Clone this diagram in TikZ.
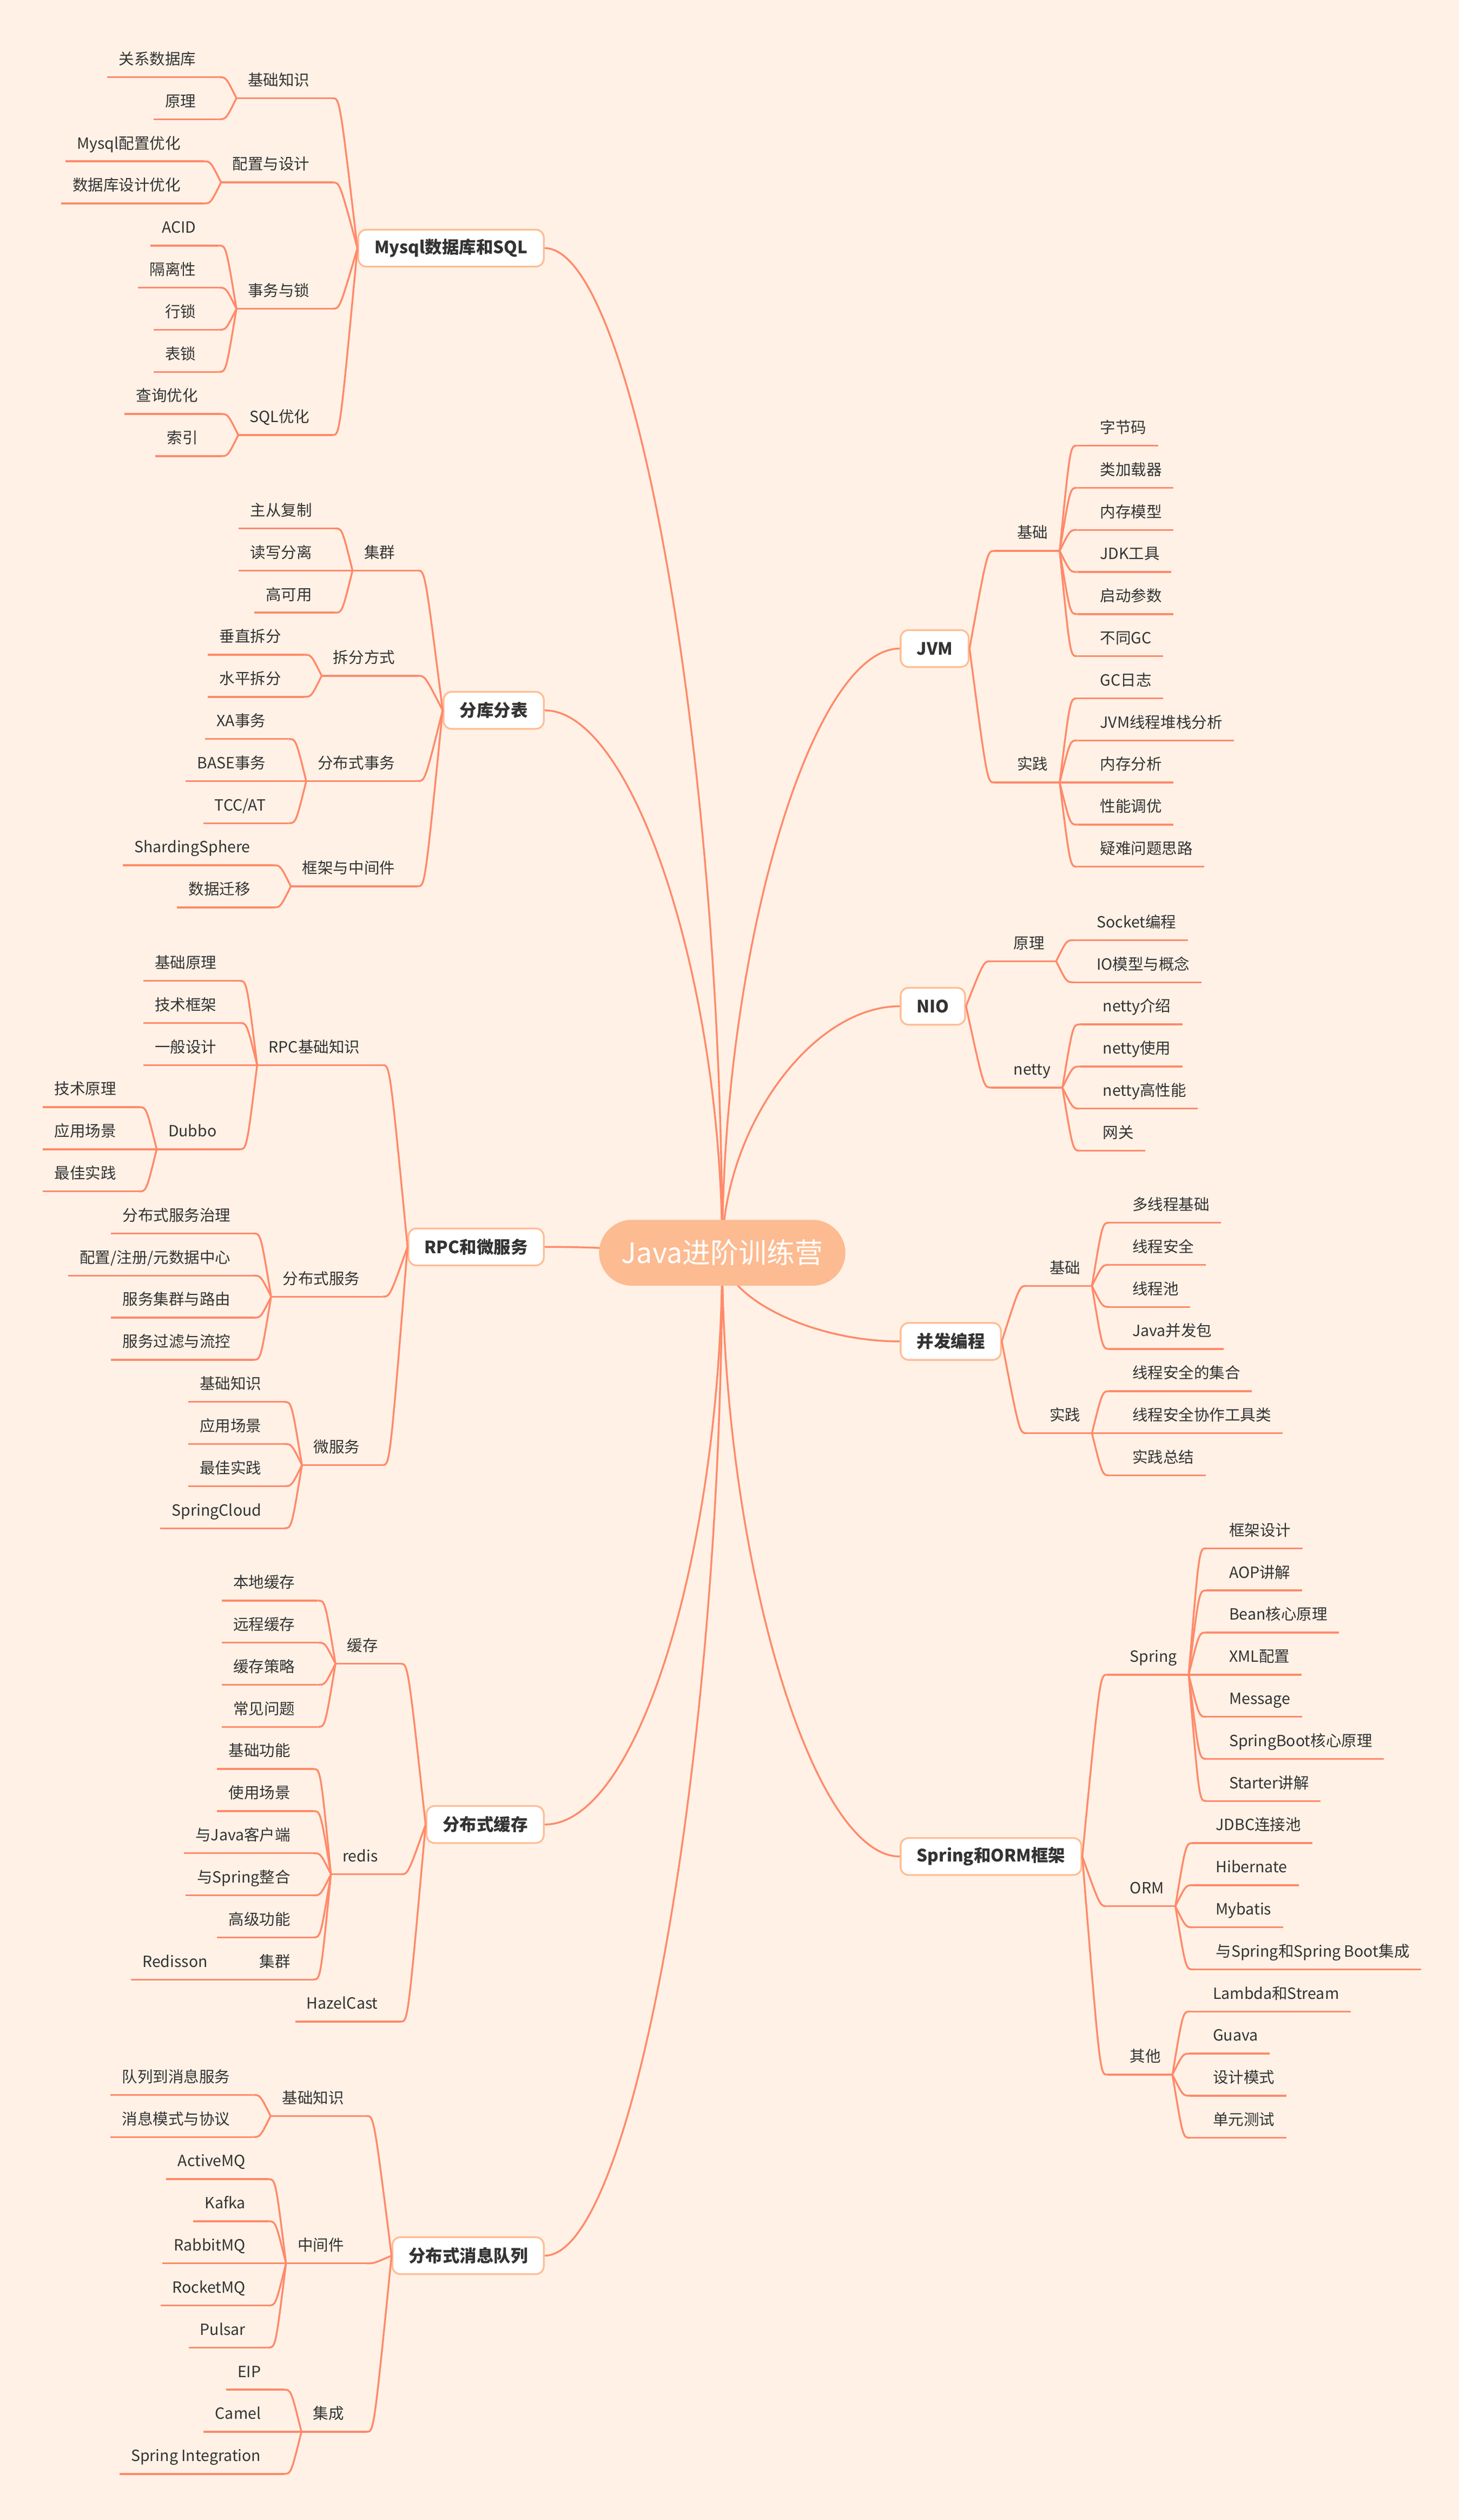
\documentclass[tikz,border=0pt]{standalone}
\usepackage{fontspec}
\setmainfont{Noto Sans CJK SC}
\usetikzlibrary{backgrounds}
\definecolor{paper}{RGB}{255,241,230}
\definecolor{linec}{RGB}{255,138,106}
\definecolor{framec}{RGB}{255,189,148}
\definecolor{rootc}{RGB}{253,187,145}
\definecolor{inkc}{RGB}{51,51,51}

\begin{document}
\begin{tikzpicture}
		[x=1pt, y=-1pt,
		 branchline/.style={draw=linec, line width=1.15pt},
		 rootbox/.style={fill=rootc, rounded corners=20.5pt, minimum height=41pt, inner xsep=14pt, text=white, font=\fontsize{17.5}{20}\selectfont},
		 mainbox/.style={draw=framec, line width=1.1pt, fill=white, rounded corners=5pt, minimum height=23pt, inner xsep=10pt, text=inkc, font=\fontsize{10.6}{12}\selectfont\bfseries},
		 topic/.style={text=inkc, font=\fontsize{9.6}{11}\selectfont, text height=7pt, text depth=2pt, inner xsep=7pt, inner ysep=5.6pt,
			append after command={(\tikzlastnode.south west) edge[branchline] (\tikzlastnode.south east)}},
		 ltopic/.style={topic, anchor=south east, execute at end node={\hspace*{7pt}}},
		 rtopic/.style={topic, anchor=south west, execute at begin node={\hspace*{7pt}}}]
		\useasboundingbox (0,0) rectangle (908,1568);

		\node[rootbox] (java) at (449.5,779.5) {Java进阶训练营};

		% Mysql
		\node[mainbox, anchor=east] (mysql) at (339,154.4) {Mysql数据库和SQL};
		\node[ltopic] (mA) at ([xshift=-15.5pt]mysql.west |- 0,61.1) {基础知识};
		\node[ltopic] (mB) at ([xshift=-15.5pt]mysql.west |- 0,113.5) {配置与设计};
		\node[ltopic] (mC) at ([xshift=-15.5pt]mysql.west |- 0,192.1) {事务与锁};
		\node[ltopic] (mD) at ([xshift=-15.5pt]mysql.west |- 0,270.7) {SQL优化};
		\node[ltopic] (m1) at ([xshift=-11pt]mA.south west |- 0,48) {关系数据库};
		\node[ltopic] (m2) at ([xshift=-11pt]mA.south west |- 0,74.2) {原理};
		\node[ltopic] (m3) at ([xshift=-11pt]mB.south west |- 0,100.4) {Mysql配置优化};
		\node[ltopic] (m4) at ([xshift=-11pt]mB.south west |- 0,126.6) {数据库设计优化};
		\node[ltopic] (m5) at ([xshift=-11pt]mC.south west |- 0,152.8) {ACID};
		\node[ltopic] (m6) at ([xshift=-11pt]mC.south west |- 0,179) {隔离性};
		\node[ltopic] (m7) at ([xshift=-11pt]mC.south west |- 0,205.2) {行锁};
		\node[ltopic] (m8) at ([xshift=-11pt]mC.south west |- 0,231.4) {表锁};
		\node[ltopic] (m9) at ([xshift=-11pt]mD.south west |- 0,257.6) {查询优化};
		\node[ltopic] (m10) at ([xshift=-11pt]mD.south west |- 0,283.8) {索引};

		% sharding
		\node[mainbox, anchor=east] (fenku) at (339,442) {分库分表};
		\node[ltopic] (fA) at ([xshift=-15.5pt]fenku.west |- 0,355) {集群};
		\node[ltopic] (fB) at ([xshift=-15.5pt]fenku.west |- 0,420.5) {拆分方式};
		\node[ltopic] (fC) at ([xshift=-15.5pt]fenku.west |- 0,486) {分布式事务};
		\node[ltopic] (fD) at ([xshift=-15.5pt]fenku.west |- 0,551.5) {框架与中间件};
		\node[ltopic] (f1) at ([xshift=-11pt]fA.south west |- 0,328.8) {主从复制};
		\node[ltopic] (f2) at ([xshift=-11pt]fA.south west |- 0,355) {读写分离};
		\node[ltopic] (f3) at ([xshift=-11pt]fA.south west |- 0,381.2) {高可用};
		\node[ltopic] (f4) at ([xshift=-11pt]fB.south west |- 0,407.4) {垂直拆分};
		\node[ltopic] (f5) at ([xshift=-11pt]fB.south west |- 0,433.6) {水平拆分};
		\node[ltopic] (f6) at ([xshift=-11pt]fC.south west |- 0,459.8) {XA事务};
		\node[ltopic] (f7) at ([xshift=-11pt]fC.south west |- 0,486) {BASE事务};
		\node[ltopic] (f8) at ([xshift=-11pt]fC.south west |- 0,512.2) {TCC/AT};
		\node[ltopic] (f9) at ([xshift=-11pt]fD.south west |- 0,538.4) {ShardingSphere};
		\node[ltopic] (f10) at ([xshift=-11pt]fD.south west |- 0,564.6) {数据迁移};

		% RPC
		\node[mainbox, anchor=east] (rpc) at (339,775.85) {RPC和微服务};
		\node[ltopic] (rA) at ([xshift=-15.5pt]rpc.west |- 0,662.7) {RPC基础知识};
		\node[ltopic] (rB) at ([xshift=-15.5pt]rpc.west |- 0,806.8) {分布式服务};
		\node[ltopic] (rC) at ([xshift=-15.5pt]rpc.west |- 0,911.6) {微服务};
		\node[ltopic] (r1) at ([xshift=-11pt]rA.south west |- 0,610.3) {基础原理};
		\node[ltopic] (r2) at ([xshift=-11pt]rA.south west |- 0,636.5) {技术框架};
		\node[ltopic] (r3) at ([xshift=-11pt]rA.south west |- 0,662.7) {一般设计};
		\node[ltopic] (rD) at ([xshift=-11pt]rA.south west |- 0,715.1) {Dubbo};
		\node[ltopic] (r4) at ([xshift=-11pt]rD.south west |- 0,688.9) {技术原理};
		\node[ltopic] (r5) at ([xshift=-11pt]rD.south west |- 0,715.1) {应用场景};
		\node[ltopic] (r6) at ([xshift=-11pt]rD.south west |- 0,741.3) {最佳实践};
		\node[ltopic] (r7) at ([xshift=-11pt]rB.south west |- 0,767.5) {分布式服务治理};
		\node[ltopic] (r8) at ([xshift=-11pt]rB.south west |- 0,793.7) {配置/注册/元数据中心};
		\node[ltopic] (r9) at ([xshift=-11pt]rB.south west |- 0,819.9) {服务集群与路由};
		\node[ltopic] (r10) at ([xshift=-11pt]rB.south west |- 0,846.1) {服务过滤与流控};
		\node[ltopic] (r11) at ([xshift=-11pt]rC.south west |- 0,872.3) {基础知识};
		\node[ltopic] (r12) at ([xshift=-11pt]rC.south west |- 0,898.5) {应用场景};
		\node[ltopic] (r13) at ([xshift=-11pt]rC.south west |- 0,924.7) {最佳实践};
		\node[ltopic] (r14) at ([xshift=-11pt]rC.south west |- 0,950.9) {SpringCloud};

		% cache
		\node[mainbox, anchor=east] (cache) at (339,1135.25) {分布式缓存};
		\node[ltopic] (cA) at ([xshift=-15.5pt]cache.west |- 0,1035.2) {缓存};
		\node[ltopic] (cB) at ([xshift=-15.5pt]cache.west |- 0,1166.2) {redis};
		\node[ltopic] (cC) at ([xshift=-15.5pt]cache.west |- 0,1257.9) {HazelCast};
		\node[ltopic] (c1) at ([xshift=-11pt]cA.south west |- 0,995.9) {本地缓存};
		\node[ltopic] (c2) at ([xshift=-11pt]cA.south west |- 0,1022.1) {远程缓存};
		\node[ltopic] (c3) at ([xshift=-11pt]cA.south west |- 0,1048.3) {缓存策略};
		\node[ltopic] (c4) at ([xshift=-11pt]cA.south west |- 0,1074.5) {常见问题};
		\node[ltopic] (c5) at ([xshift=-11pt]cB.south west |- 0,1100.7) {基础功能};
		\node[ltopic] (c6) at ([xshift=-11pt]cB.south west |- 0,1126.9) {使用场景};
		\node[ltopic] (c7) at ([xshift=-11pt]cB.south west |- 0,1153.1) {与Java客户端};
		\node[ltopic] (c8) at ([xshift=-11pt]cB.south west |- 0,1179.3) {与Spring整合};
		\node[ltopic] (c9) at ([xshift=-11pt]cB.south west |- 0,1205.5) {高级功能};
		\node[ltopic] (cD) at ([xshift=-11pt]cB.south west |- 0,1231.7) {集群};
		\node[ltopic] (c10) at ([xshift=-11pt]cD.south west |- 0,1231.7) {Redisson};

		% message queue
		\node[mainbox, anchor=east] (mq) at (339,1403.5) {分布式消息队列};
		\node[ltopic] (qA) at ([xshift=-15.5pt]mq.west |- 0,1316.6) {基础知识};
		\node[ltopic] (qB) at ([xshift=-15.5pt]mq.west |- 0,1408.3) {中间件};
		\node[ltopic] (qC) at ([xshift=-15.5pt]mq.west |- 0,1513.1) {集成};
		\node[ltopic] (q1) at ([xshift=-11pt]qA.south west |- 0,1303.5) {队列到消息服务};
		\node[ltopic] (q2) at ([xshift=-11pt]qA.south west |- 0,1329.7) {消息模式与协议};
		\node[ltopic] (q3) at ([xshift=-11pt]qB.south west |- 0,1355.9) {ActiveMQ};
		\node[ltopic] (q4) at ([xshift=-11pt]qB.south west |- 0,1382.1) {Kafka};
		\node[ltopic] (q5) at ([xshift=-11pt]qB.south west |- 0,1408.3) {RabbitMQ};
		\node[ltopic] (q6) at ([xshift=-11pt]qB.south west |- 0,1434.5) {RocketMQ};
		\node[ltopic] (q7) at ([xshift=-11pt]qB.south west |- 0,1460.7) {Pulsar};
		\node[ltopic] (q8) at ([xshift=-11pt]qC.south west |- 0,1486.9) {EIP};
		\node[ltopic] (q9) at ([xshift=-11pt]qC.south west |- 0,1513.1) {Camel};
		\node[ltopic] (q10) at ([xshift=-11pt]qC.south west |- 0,1539.3) {Spring Integration};

		% JVM
		\node[mainbox, anchor=west] (jvm) at (560,403.55) {JVM};
		\node[rtopic] (jA) at ([xshift=15.5pt]jvm.east |- 0,342.8) {基础};
		\node[rtopic] (jB) at ([xshift=15.5pt]jvm.east |- 0,486.9) {实践};
		\node[rtopic] (j1) at ([xshift=11pt]jA.south east |- 0,277.3) {字节码};
		\node[rtopic] (j2) at ([xshift=11pt]jA.south east |- 0,303.5) {类加载器};
		\node[rtopic] (j3) at ([xshift=11pt]jA.south east |- 0,329.7) {内存模型};
		\node[rtopic] (j4) at ([xshift=11pt]jA.south east |- 0,355.9) {JDK工具};
		\node[rtopic] (j5) at ([xshift=11pt]jA.south east |- 0,382.1) {启动参数};
		\node[rtopic] (j6) at ([xshift=11pt]jA.south east |- 0,408.3) {不同GC};
		\node[rtopic] (j7) at ([xshift=11pt]jB.south east |- 0,434.5) {GC日志};
		\node[rtopic] (j8) at ([xshift=11pt]jB.south east |- 0,460.7) {JVM线程堆栈分析};
		\node[rtopic] (j9) at ([xshift=11pt]jB.south east |- 0,486.9) {内存分析};
		\node[rtopic] (j10) at ([xshift=11pt]jB.south east |- 0,513.1) {性能调优};
		\node[rtopic] (j11) at ([xshift=11pt]jB.south east |- 0,539.3) {疑难问题思路};

		% NIO
		\node[mainbox, anchor=west] (nio) at (560,626.1) {NIO};
		\node[rtopic] (nA) at ([xshift=15.5pt]nio.east |- 0,598.1) {原理};
		\node[rtopic] (nB) at ([xshift=15.5pt]nio.east |- 0,676.7) {netty};
		\node[rtopic] (n1) at ([xshift=11pt]nA.south east |- 0,585) {Socket编程};
		\node[rtopic] (n2) at ([xshift=11pt]nA.south east |- 0,611.2) {IO模型与概念};
		\node[rtopic] (n3) at ([xshift=11pt]nB.south east |- 0,637.4) {netty介绍};
		\node[rtopic] (n4) at ([xshift=11pt]nB.south east |- 0,663.6) {netty使用};
		\node[rtopic] (n5) at ([xshift=11pt]nB.south east |- 0,689.8) {netty高性能};
		\node[rtopic] (n6) at ([xshift=11pt]nB.south east |- 0,716) {网关};

		% concurrency
		\node[mainbox, anchor=west] (conc) at (560,834.65) {并发编程};
		\node[rtopic] (bA) at ([xshift=15.5pt]conc.east |- 0,800.1) {基础};
		\node[rtopic] (bB) at ([xshift=15.5pt]conc.east |- 0,891.8) {实践};
		\node[rtopic] (b1) at ([xshift=11pt]bA.south east |- 0,760.8) {多线程基础};
		\node[rtopic] (b2) at ([xshift=11pt]bA.south east |- 0,787) {线程安全};
		\node[rtopic] (b3) at ([xshift=11pt]bA.south east |- 0,813.2) {线程池};
		\node[rtopic] (b4) at ([xshift=11pt]bA.south east |- 0,839.4) {Java并发包};
		\node[rtopic] (b5) at ([xshift=11pt]bB.south east |- 0,865.6) {线程安全的集合};
		\node[rtopic] (b6) at ([xshift=11pt]bB.south east |- 0,891.8) {线程安全协作工具类};
		\node[rtopic] (b7) at ([xshift=11pt]bB.south east |- 0,918) {实践总结};

		% Spring
		\node[mainbox, anchor=west] (spring) at (560,1155.15) {Spring和ORM框架};
		\node[rtopic] (sA) at ([xshift=15.5pt]spring.east |- 0,1042) {Spring};
		\node[rtopic] (sB) at ([xshift=15.5pt]spring.east |- 0,1186.1) {ORM};
		\node[rtopic] (sC) at ([xshift=15.5pt]spring.east |- 0,1290.9) {其他};
		\node[rtopic] (s1) at ([xshift=11pt]sA.south east |- 0,963.4) {框架设计};
		\node[rtopic] (s2) at ([xshift=11pt]sA.south east |- 0,989.6) {AOP讲解};
		\node[rtopic] (s3) at ([xshift=11pt]sA.south east |- 0,1015.8) {Bean核心原理};
		\node[rtopic] (s4) at ([xshift=11pt]sA.south east |- 0,1042) {XML配置};
		\node[rtopic] (s5) at ([xshift=11pt]sA.south east |- 0,1068.2) {Message};
		\node[rtopic] (s6) at ([xshift=11pt]sA.south east |- 0,1094.4) {SpringBoot核心原理};
		\node[rtopic] (s7) at ([xshift=11pt]sA.south east |- 0,1120.6) {Starter讲解};
		\node[rtopic] (s8) at ([xshift=11pt]sB.south east |- 0,1146.8) {JDBC连接池};
		\node[rtopic] (s9) at ([xshift=11pt]sB.south east |- 0,1173) {Hibernate};
		\node[rtopic] (s10) at ([xshift=11pt]sB.south east |- 0,1199.2) {Mybatis};
		\node[rtopic] (s11) at ([xshift=11pt]sB.south east |- 0,1225.4) {与Spring和Spring Boot集成};
		\node[rtopic] (s12) at ([xshift=11pt]sC.south east |- 0,1251.6) {Lambda和Stream};
		\node[rtopic] (s13) at ([xshift=11pt]sC.south east |- 0,1277.8) {Guava};
		\node[rtopic] (s14) at ([xshift=11pt]sC.south east |- 0,1304) {设计模式};
		\node[rtopic] (s15) at ([xshift=11pt]sC.south east |- 0,1330.2) {单元测试};

		% branches
		\foreach \p/\cs in {mysql.west/{mA,mB,mC,mD}, mA.south west/{m1,m2}, mB.south west/{m3,m4},
				mC.south west/{m5,m6,m7,m8}, mD.south west/{m9,m10},
				fenku.west/{fA,fB,fC,fD}, fA.south west/{f1,f2,f3}, fB.south west/{f4,f5},
				fC.south west/{f6,f7,f8}, fD.south west/{f9,f10},
				rpc.west/{rA,rB,rC}, rA.south west/{r1,r2,r3,rD}, rD.south west/{r4,r5,r6},
				rB.south west/{r7,r8,r9,r10}, rC.south west/{r11,r12,r13,r14},
				cache.west/{cA,cB,cC}, cA.south west/{c1,c2,c3,c4}, cB.south west/{c5,c6,c7,c8,c9,cD},
				cD.south west/{c10},
				mq.west/{qA,qB,qC}, qA.south west/{q1,q2}, qB.south west/{q3,q4,q5,q6,q7}, qC.south west/{q8,q9,q10}}
			\foreach \c in \cs
				\draw[branchline] (\p) .. controls ([xshift=4.5pt]\c.south east) .. (\c.south east);
		\foreach \p/\cs in {jvm.east/{jA,jB}, jA.south east/{j1,j2,j3,j4,j5,j6}, jB.south east/{j7,j8,j9,j10,j11},
				nio.east/{nA,nB}, nA.south east/{n1,n2}, nB.south east/{n3,n4,n5,n6},
				conc.east/{bA,bB}, bA.south east/{b1,b2,b3,b4}, bB.south east/{b5,b6,b7},
				spring.east/{sA,sB,sC}, sA.south east/{s1,s2,s3,s4,s5,s6,s7},
				sB.south east/{s8,s9,s10,s11}, sC.south east/{s12,s13,s14,s15}}
			\foreach \c in \cs
				\draw[branchline] (\p) .. controls ([xshift=-4.5pt]\c.south west) .. (\c.south west);

		\begin{scope}[on background layer]
			\fill[paper] (0,0) rectangle (908,1568);
			\draw[branchline] (java.center) .. controls +(0,-312) and +(55,0) .. (mysql.east);
			\draw[branchline] (java.center) .. controls +(0,-169) and +(55,0) .. (fenku.east);
			\draw[branchline] (java.center) .. controls +(-55,0) and +(55,0) .. (rpc.east);
			\draw[branchline] (java.center) .. controls +(0,178) and +(60,0) .. (cache.east);
			\draw[branchline] (java.center) .. controls +(0,312) and +(55,0) .. (mq.east);
			\draw[branchline] (java.center) .. controls +(0,-188) and +(-55,0) .. (jvm.west);
			\draw[branchline] (java.center) .. controls +(0,-77) and +(-55,0) .. (nio.west);
			\draw[branchline] (java.center) .. controls +(0,27.5) and +(-55,0) .. (conc.west);
			\draw[branchline] (java.center) .. controls +(0,188) and +(-55,0) .. (spring.west);
		\end{scope}
	\end{tikzpicture}
\end{document}
